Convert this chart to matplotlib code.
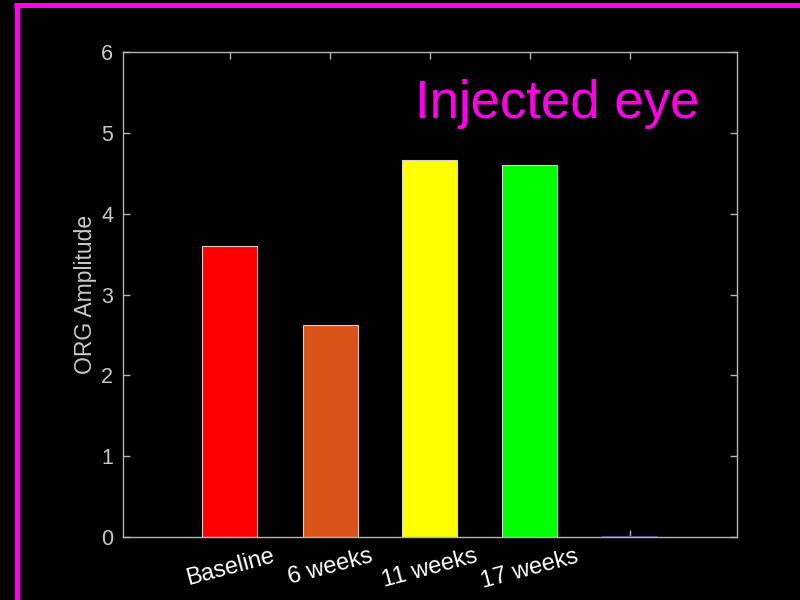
import matplotlib.pyplot as plt
from matplotlib.lines import Line2D

# ORG amplitude per visit, injected eye
visits = ['Baseline', '6 weeks', '11 weeks', '17 weeks', '']
amplitude = [3.60, 2.62, 4.66, 4.60, 0.01]
bar_colors = ['#ff0000', '#d95319', '#ffff00', '#00ff00', '#3a3a96']
edge_colors = ['#e8c8c8', '#e8c8b8', '#d8d8c0', '#c8d8c8', '#3a3a96']
y_ticks = [0, 1, 2, 3, 4, 5, 6]

plt.rcParams['font.family'] = ['Liberation Sans', 'DejaVu Sans']

fig = plt.figure(figsize=(8, 6), dpi=100, facecolor='black')
ax = fig.add_axes([0.15375, 0.105, 0.7675, 0.8083])
ax.set_facecolor('black')

x = list(range(1, len(visits) + 1))
ax.bar(x, amplitude, width=0.55, color=bar_colors,
       edgecolor=edge_colors, linewidth=0.8, zorder=2)

ax.set_xlim(-0.07, 6.07)
ax.set_ylim(0, 6)
ax.set_yticks(y_ticks)
ax.set_xticks(x)
ax.set_xticklabels(visits, rotation=15, ha='center', color='white', fontsize=17)

grey = '#b4b4b4'
for s in ax.spines.values():
    s.set_color(grey)
    s.set_linewidth(1.0)
ax.tick_params(axis='both', direction='in', length=5, width=1.0, color=grey,
               top=True, right=True)
ax.tick_params(axis='y', labelcolor='#c8c8c8', labelsize=15.5, pad=7)
ax.tick_params(axis='x', pad=6)

ax.set_ylabel('ORG Amplitude', color='#c8c8c8', fontsize=16.5, labelpad=3)

ax.text(0.4756, 0.864, 'Injected eye', transform=ax.transAxes,
        color='#ff00e8', fontsize=38, ha='left', va='baseline')

# magenta frame along top and left edges
fig.add_artist(Line2D([14 / 800, 1.0], [1 - 5 / 600, 1 - 5 / 600],
                      transform=fig.transFigure, color='#ff00e8', linewidth=3.6,
                      solid_capstyle='butt'))
fig.add_artist(Line2D([16.5 / 800, 16.5 / 800], [0, 1 - 3 / 600],
                      transform=fig.transFigure, color='#ff00e8', linewidth=3.9,
                      solid_capstyle='butt'))

fig.savefig('out.png', dpi=100, facecolor='black')
